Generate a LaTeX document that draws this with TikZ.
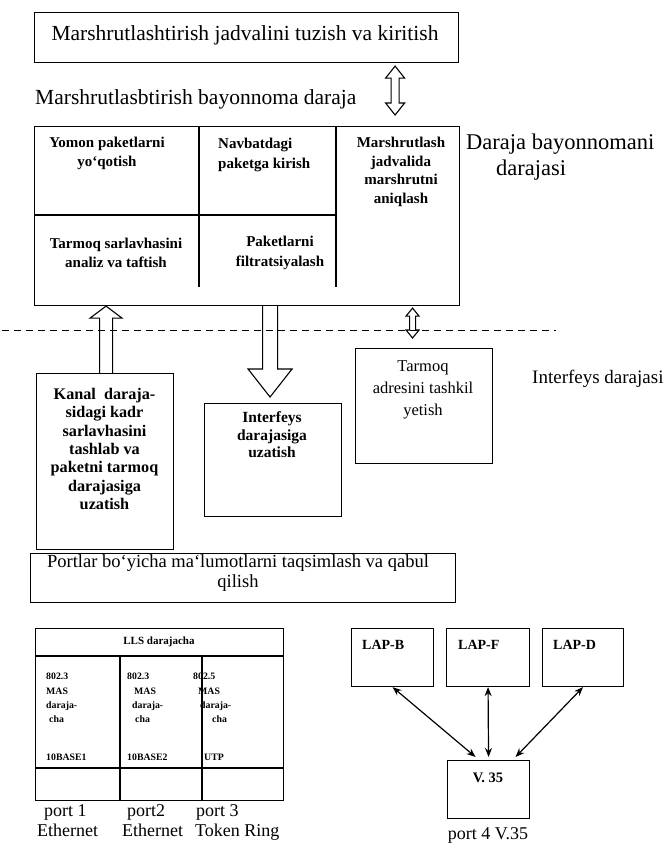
\documentclass[tikz,border=0pt]{standalone}
\usepackage{fontspec}
\setmainfont{Liberation Serif}
\usetikzlibrary{calc,arrows.meta}
\tikzset{
  box/.style={draw, line width=1.1pt, inner sep=0pt, anchor=north west},
  hollow/.style={draw, line width=1.1pt, line join=miter},
  bigtxt/.style={font=\fontsize{21.5}{25}\selectfont, inner sep=0pt},
  celltxt/.style={font=\fontsize{15}{19.5}\selectfont\bfseries, align=center, inner sep=0pt},
  midbold/.style={font=\fontsize{16.2}{18.3}\selectfont\bfseries, align=center, inner sep=0pt},
  midreg/.style={font=\fontsize{16.5}{22}\selectfont, align=center, inner sep=0pt},
  smallbold/.style={font=\fontsize{9.8}{14.3}\selectfont\bfseries, align=left, inner sep=0pt},
  lapbold/.style={font=\fontsize{14}{15}\selectfont\bfseries, inner sep=0pt},
  porttxt/.style={font=\fontsize{18}{18}\selectfont, inner sep=0pt, anchor=base west},
  thinarrow/.style={line width=1.2pt, {Stealth[length=9pt,width=7pt]}-{Stealth[length=9pt,width=7pt]}}
}
\newcommand\hollowup[5]{\draw[hollow] let \p1=(#1), \p2=(#2) in
  (\x1-#3,\y1) -- (\x1-#3,\y2-#5) -- (\x1-#4,\y2-#5) -- (\x1,\y2) -- (\x1+#4,\y2-#5) -- (\x1+#3,\y2-#5) -- (\x1+#3,\y1);}
\newcommand\hollowdown[5]{\draw[hollow] let \p1=(#1), \p2=(#2) in
  (\x1-#3,\y1) -- (\x1-#3,\y2+#5) -- (\x1-#4,\y2+#5) -- (\x1,\y2) -- (\x1+#4,\y2+#5) -- (\x1+#3,\y2+#5) -- (\x1+#3,\y1);}
\newcommand\hollowboth[5]{\draw[hollow] let \p1=(#1), \p2=(#2) in
  (\x1,\y2) -- (\x1+#4,\y2-#5) -- (\x1+#3,\y2-#5) -- (\x1+#3,\y1+#5) -- (\x1+#4,\y1+#5) -- (\x1,\y1)
  -- (\x1-#4,\y1+#5) -- (\x1-#3,\y1+#5) -- (\x1-#3,\y2-#5) -- (\x1-#4,\y2-#5) -- cycle;}
\begin{document}
\begin{tikzpicture}[x=1pt,y=-1pt]
\useasboundingbox (0,0) rectangle (668,849);

% top box
\node[box, minimum width=424pt, minimum height=50pt] (topbox) at (34,12) {};
\node[bigtxt] (toptxt) at (245,35) {Marshrutlashtirish jadvalini tuzish va kiritish};
\node[bigtxt, anchor=west] (bayon) at (35,99) {Marshrutlasbtirish bayonnoma daraja};

% main box
\node[box, minimum width=425pt, minimum height=179pt] (main) at (34,126) {};
\draw[line width=1.1pt] (34,215) -- (336,215);
\draw[line width=1.1pt] (199,126) -- (199,287);
\draw[line width=1.1pt] (336,126) -- (336,287);
\node[celltxt] (c1) at (107,153.5) {Yomon paketlarni\\yo`qotish};
\node[celltxt, align=left, anchor=north west] (c2) at (218,138) {Navbatdagi\\paketga kirish};
\node[celltxt, font=\fontsize{15}{18.7}\selectfont\bfseries] (c3) at (401,172) {Marshrutlash\\jadvalida\\marshrutni\\aniqlash};
\node[celltxt] (c4) at (116,253) {Tarmoq sarlavhasini\\analiz va taftish};
\node[celltxt] (c5) at (280,253) {Paketlarni\\filtratsiyalash};

\node[bigtxt, align=left, anchor=north west, font=\fontsize{22.5}{26}\selectfont] (daraja) at (466,134) {Daraja bayonnomani\\\hspace*{30pt}darajasi};

% dashed line
\draw[line width=1pt, dash pattern=on 7pt off 5pt] (2,330) -- (556,330);

\node[bigtxt, font=\fontsize{19}{22}\selectfont, anchor=west] (interfd) at (532,379) {Interfeys darajasi};

% lower boxes
\node[box, minimum width=137pt, minimum height=176pt] (kanal) at (36,373) {};
\node[midbold] (kanaltxt) at (104.5,449) {Kanal\ \ daraja-\\sidagi kadr\\sarlavhasini\\tashlab va\\paketni tarmoq\\darajasiga\\uzatish};

\node[box, minimum width=137pt, minimum height=113pt] (interf) at (204,403) {};
\node[midbold, font=\fontsize{15.5}{17.5}\selectfont\bfseries] (interftxt) at (272,435) {Interfeys\\darajasiga\\uzatish};

\node[box, minimum width=137pt, minimum height=115pt] (tarmoq) at (355,348) {};
\node[midreg] (tarmoqtxt) at (423,390) {Tarmoq\\adresini tashkil\\yetish};

\node[box, minimum width=425pt, minimum height=49pt] (portlar) at (30,553) {};
\node[bigtxt, font=\fontsize{18.5}{20}\selectfont, align=center] (portlartxt) at (238,573) {Portlar bo`yicha ma`lumotlarni taqsimlash va qabul\\qilish};

% hollow arrows
\hollowboth{$(main.north east)+(-65,-11)$}{$(topbox.south east)+(-64,3)$}{4pt}{9.5pt}{12pt}
\hollowup{$(kanal.north)+(1,0)$}{$(kanal.north |- main.south)+(1,0)$}{6.5pt}{16pt}{12pt}
\hollowdown{$(interf.north |- main.south)+(-3,0)$}{$(interf.north)+(-3,-6)$}{7.5pt}{22pt}{28pt}
\hollowboth{$(tarmoq.north)+(-11.5,-10)$}{$(main.south east)+(-47,2)$}{3pt}{6.5pt}{8pt}

% LLS table
\node[box, minimum width=248pt, minimum height=172pt] (lls) at (35,628) {};
\draw[line width=1.1pt] (35,656) -- (283,656);
\draw[line width=1.1pt] (35,768) -- (283,768);
\draw[line width=1.1pt] (120,656) -- (120,800);
\draw[line width=1.1pt] (202,656) -- (202,800);
\node[smallbold, font=\fontsize{11}{13}\selectfont\bfseries] (llstxt) at (159,642) {LLS darajacha};
\node[smallbold, anchor=north west] (col1) at (46,673) {802.3\\MAS\\daraja-\\\hspace*{3pt}cha};
\node[smallbold, anchor=north west] (col2) at (127,673) {802.3\\\hspace*{7pt}MAS\\\hspace*{5pt}daraja-\\\hspace*{8pt}cha};
\node[smallbold, anchor=north west] (col3) at (193,673) {802.5\\\hspace*{5pt}MAS\\\hspace*{7pt}daraja-\\\hspace*{19pt}cha};
\node[smallbold, anchor=west] (b1) at (46,757) {10BASE1};
\node[smallbold, anchor=west] (b2) at (127,757) {10BASE2};
\node[smallbold, anchor=west] (b3) at (204,757) {UTP};

\node[porttxt] (p1) at (44,816) {port 1};
\node[porttxt] (p2) at (127,816) {port2};
\node[porttxt] (p3) at (196,816) {port 3};
\node[porttxt] (e1) at (37,836) {Ethernet};
\node[porttxt] (e2) at (122,836) {Ethernet};
\node[porttxt] (e3) at (195,836) {Token Ring};

% LAP boxes
\node[box, minimum width=82pt, minimum height=58pt] (lapb) at (351,628) {};
\node[box, minimum width=83pt, minimum height=58pt] (lapf) at (446,628) {};
\node[box, minimum width=81pt, minimum height=58pt] (lapd) at (542,628) {};
\node[box, minimum width=82pt, minimum height=58pt] (v35) at (447,760) {};
\node[lapbold, anchor=west] (lapbt) at (362,645) {LAP-B};
\node[lapbold, anchor=west] (lapft) at (458,645) {LAP-F};
\node[lapbold, anchor=west] (lapdt) at (553,645) {LAP-D};
\node[lapbold, font=\fontsize{14.5}{15}\selectfont\bfseries] (v35t) at (488,778) {V. 35};
\node[porttxt, anchor=base] (p4) at (488,839) {port 4 V.35};

\draw[thinarrow] (lapb.south) -- ($(v35.north)+(-13,-3)$);
\draw[thinarrow] (lapf.south) -- ($(v35.north)+(0,-3)$);
\draw[thinarrow] (lapd.south) -- ($(v35.north)+(27,-3)$);
\end{tikzpicture}
\end{document}
